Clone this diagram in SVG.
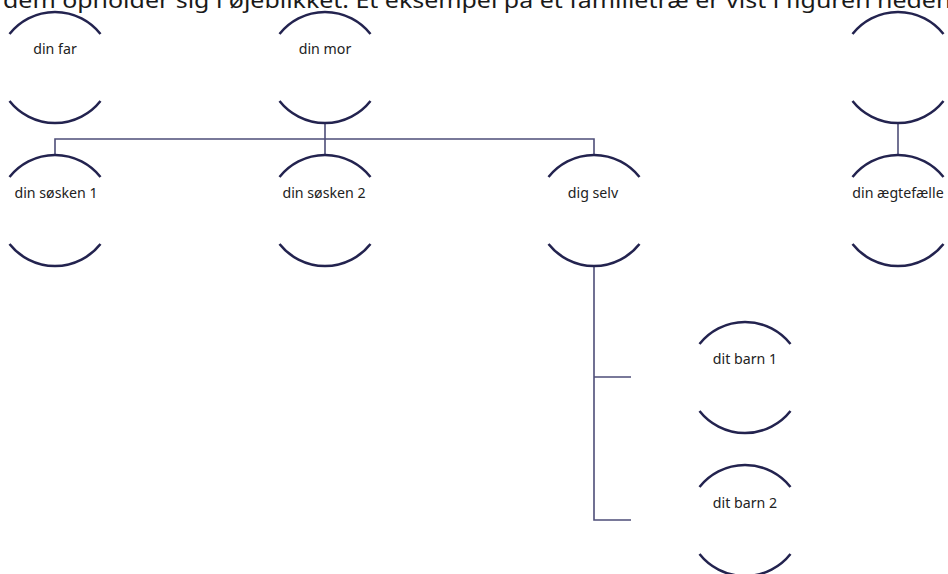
<svg xmlns="http://www.w3.org/2000/svg" width="948" height="574" viewBox="0 0 948 574">
<style>
.arc{fill:none;stroke:#23234f;stroke-width:2.5}
.con{fill:none;stroke:#4e4e78;stroke-width:1.6}
.lbl{font-family:"Noto Sans","Liberation Sans",sans-serif;font-size:14.2px;fill:#222;text-anchor:middle}
.top{font-family:"Noto Sans","Liberation Sans",sans-serif;font-size:22px;fill:#1a1a1a}
</style>
<defs>
<g id="shape">
<path class="arc" d="M-45.5 22 A58 58 0 0 1 45.5 22"/>
<path class="arc" d="M-45.5 89 A58 58 0 0 0 45.5 89"/>
</g>
</defs>
<text class="top" x="3" y="8" textLength="985" lengthAdjust="spacingAndGlyphs">dem opholder sig i øjeblikket. Et eksempel på et familietræ er vist i figuren nedenfor.</text>
<g id="connectors">
<path class="con" d="M325 123 V139 M55 154 V139 H594 V154 M325 139 V154"/>
<path class="con" d="M898 123 V154"/>
<path class="con" d="M594 267 V520 H631 M594 377 H631"/>
</g>
<g id="far"><use href="#shape" x="55" y="12"/><text class="lbl" x="55" y="54">din far</text></g>
<g id="mor"><use href="#shape" x="325" y="12"/><text class="lbl" x="325" y="54">din mor</text></g>
<g id="top-right"><use href="#shape" x="898" y="12"/></g>
<g id="soesken1"><use href="#shape" x="55" y="155"/><text class="lbl" x="56" y="198">din søsken 1</text></g>
<g id="soesken2"><use href="#shape" x="325" y="155"/><text class="lbl" x="324" y="198">din søsken 2</text></g>
<g id="digselv"><use href="#shape" x="594" y="155"/><text class="lbl" x="593" y="198">dig selv</text></g>
<g id="aegtefaelle"><use href="#shape" x="898" y="155"/><text class="lbl" x="898" y="198">din ægtefælle</text></g>
<g id="barn1"><use href="#shape" x="745" y="322"/><text class="lbl" x="745" y="364">dit barn 1</text></g>
<g id="barn2"><use href="#shape" x="745" y="465"/><text class="lbl" x="745" y="508">dit barn 2</text></g>
</svg>
